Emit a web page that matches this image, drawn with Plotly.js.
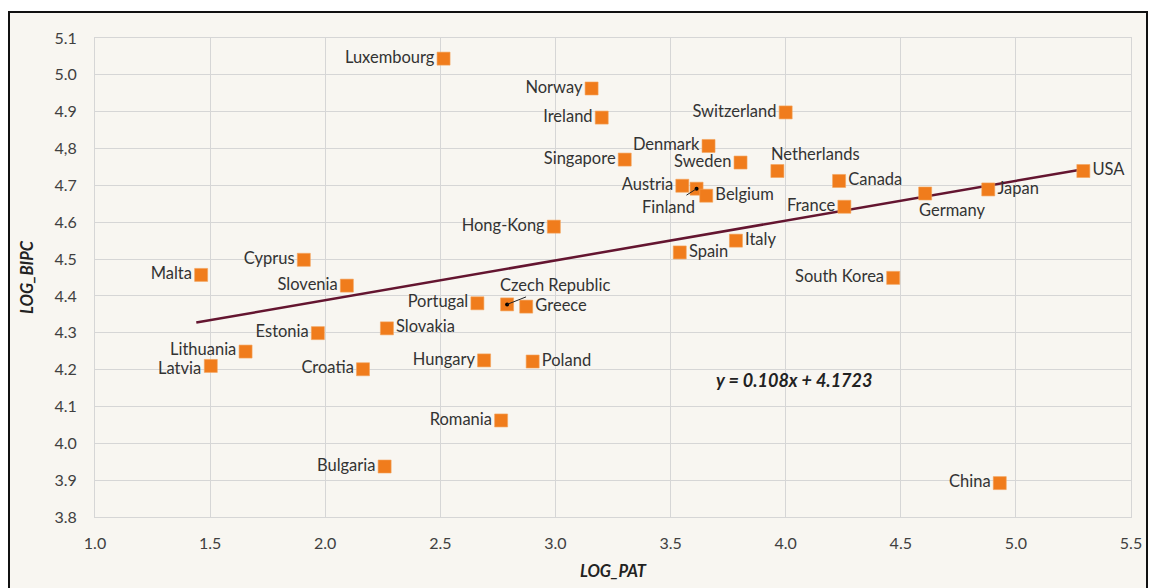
<!DOCTYPE html>
<html>
<head>
<meta charset="utf-8">
<script src="https://cdn.plot.ly/plotly-3.0.1.min.js"></script>
<style>
html,body{margin:0;padding:0;background:#ffffff;width:1152px;height:588px;overflow:hidden;}
#frame{position:absolute;left:8px;top:11px;width:1136px;height:600px;border:2px solid #111;background:#f8f6f1;}
#chart{position:absolute;left:0;top:0;width:1152px;height:588px;}
</style>
</head>
<body>
<div id="frame"></div>
<div id="chart"></div>
<script>
// Data
const countries = ["Luxembourg","Norway","Ireland","Switzerland","Denmark","Singapore","Sweden","Netherlands","Austria","Finland","Belgium","Hong-Kong","Italy","Spain","Canada","France","Germany","Japan","USA","South Korea","Malta","Cyprus","Slovenia","Estonia","Slovakia","Lithuania","Latvia","Croatia","Bulgaria","Portugal","Czech Republic","Greece","Hungary","Poland","Romania","China"];
const logPat  = [2.514,3.157,3.201,4.000,3.665,3.301,3.804,3.964,3.551,3.613,3.655,2.993,3.784,3.540,4.232,4.255,4.606,4.880,5.293,4.467,1.461,1.907,2.094,1.968,2.268,1.654,1.503,2.164,2.258,2.661,2.790,2.873,2.690,2.901,2.764,4.930];
const logBipc = [5.044,4.963,4.884,4.898,4.807,4.770,4.762,4.739,4.699,4.691,4.672,4.588,4.550,4.518,4.712,4.642,4.678,4.689,4.739,4.449,4.457,4.498,4.428,4.299,4.312,4.249,4.210,4.201,3.937,4.380,4.377,4.371,4.225,4.222,4.062,3.892];
const labelPos = ["middle left","middle left","middle left","middle left","middle left","middle left","middle left","above","middle left","callout","middle right","middle left","middle right","middle right","middle right","middle left","below","middle right","middle right","middle left","middle left","middle left","middle left","middle left","middle right","left-up","left-down","middle left","middle left","middle left","callout","middle right","middle left","middle right","middle left","middle left"];
const calloutCountries = ["Finland","Czech Republic"];
const calloutOffsets = [[-28,18],[48,-19]];
const trendSlope = 0.108, trendIntercept = 4.1723;
const trendX = [1.44, 5.293];
const xTicks = [1.0,1.5,2.0,2.5,3.0,3.5,4.0,4.5,5.0,5.5];
const xTickText = ["1.0","1.5","2.0","2.5","3.0","3.5","4.0","4.5","5.0","5.5"];
const yTicks = [3.8,3.9,4.0,4.1,4.2,4.3,4.4,4.5,4.6,4.7,4.8,4.9,5.0,5.1];
const yTickText = ["3.8","3.9","4.0","4.1","4.2","4.3","4.4","4.5","4.6","4.7","4,8","4.9","5.0","5.1"];
const equationText = "y = 0.108x + 4.1723";

const FONT = "Lato, 'Open Sans', sans-serif";
const LABEL_FONT = {family: FONT, size: 16.5, color: "#333333"};
const inTrace = p => p.startsWith("middle");
const shownText = countries.map((c,i)=> inTrace(labelPos[i]) ? c : "");
const tpos = labelPos.map(p => inTrace(p) ? p : "middle left");

const trendY = trendX.map(x => trendSlope*x + trendIntercept);
const calloutIdx = calloutCountries.map(c => countries.indexOf(c));

const traces = [
  {
    x: trendX, y: trendY, mode: "lines", type: "scatter",
    line: {color: "#641530", width: 2.5}, hoverinfo: "skip", showlegend: false
  },
  {
    x: logPat, y: logBipc, mode: "markers+text", type: "scatter",
    text: shownText, textposition: tpos,
    textfont: LABEL_FONT,
    marker: {symbol: "square", size: 13, color: "#f07c1c", line: {color: "#f4a25a", width: 0.6}},
    showlegend: false, cliponaxis: false
  },
  {
    x: calloutIdx.map(i => logPat[i]), y: calloutIdx.map(i => logBipc[i]),
    mode: "markers", type: "scatter",
    marker: {symbol: "circle", size: 4, color: "#000000"},
    showlegend: false, hoverinfo: "skip"
  }
];

const annotations = calloutIdx.map((i,k) => ({
  x: logPat[i], y: logBipc[i], xref: "x", yref: "y",
  text: countries[i], showarrow: true, arrowhead: 0, arrowwidth: 1, arrowcolor: "#222",
  ax: calloutOffsets[k][0], ay: calloutOffsets[k][1],
  font: LABEL_FONT, standoff: 0, startstandoff: 0
}));
labelPos.forEach((p,i) => {
  if (p === "above" || p === "below") {
    annotations.push({
      x: logPat[i], y: logBipc[i], xref: "x", yref: "y", showarrow: false,
      text: countries[i], font: LABEL_FONT,
      xanchor: "left", xshift: -8,
      yanchor: p === "above" ? "bottom" : "top", yshift: p === "above" ? 5 : -5
    });
  } else if (p === "left-up" || p === "left-down") {
    annotations.push({
      x: logPat[i], y: logBipc[i], xref: "x", yref: "y", showarrow: false,
      text: countries[i], font: LABEL_FONT,
      xanchor: "right", yanchor: "middle", xshift: -8,
      yshift: p === "left-up" ? 3 : -2
    });
  }
});
annotations.push({
  x: 4.035, y: 4.172, xref: "x", yref: "y", showarrow: false,
  text: "<b><i>" + equationText + "</i></b>",
  font: {family: FONT, size: 18, color: "#222222"}
});

const layout = {
  width: 1152, height: 588,
  margin: {l: 95, r: 21, t: 38, b: 71},
  paper_bgcolor: "rgba(0,0,0,0)", plot_bgcolor: "rgba(0,0,0,0)",
  font: {family: FONT, size: 15, color: "#404040"},
  xaxis: {
    range: [1.0, 5.5], tickvals: xTicks, ticktext: xTickText,
    showgrid: true, gridcolor: "#d6d6d6", gridwidth: 1, zeroline: false,
    showline: true, linecolor: "#d6d6d6", mirror: true, ticks: "",
    tickfont: {family: FONT, size: 16, color: "#404040"}, ticklabelstandoff: 12,
    title: {text: "<b><i>LOG_PAT</i></b>", font: {family: FONT, size: 16.5, color: "#222"}, standoff: 14},
    automargin: false
  },
  yaxis: {
    range: [3.8, 5.1], tickvals: yTicks, ticktext: yTickText,
    showgrid: true, gridcolor: "#d6d6d6", gridwidth: 1, zeroline: false,
    showline: true, linecolor: "#d6d6d6", mirror: true, ticks: "",
    tickfont: {family: FONT, size: 16, color: "#404040"}, ticklabelstandoff: 14,
    title: {text: "<b><i>LOG_BIPC</i></b>", font: {family: FONT, size: 16.5, color: "#222"}, standoff: 16},
    automargin: false
  },
  annotations: annotations,
  showlegend: false
};

Plotly.newPlot("chart", traces, layout, {staticPlot: true, displayModeBar: false});
</script>
</body>
</html>
